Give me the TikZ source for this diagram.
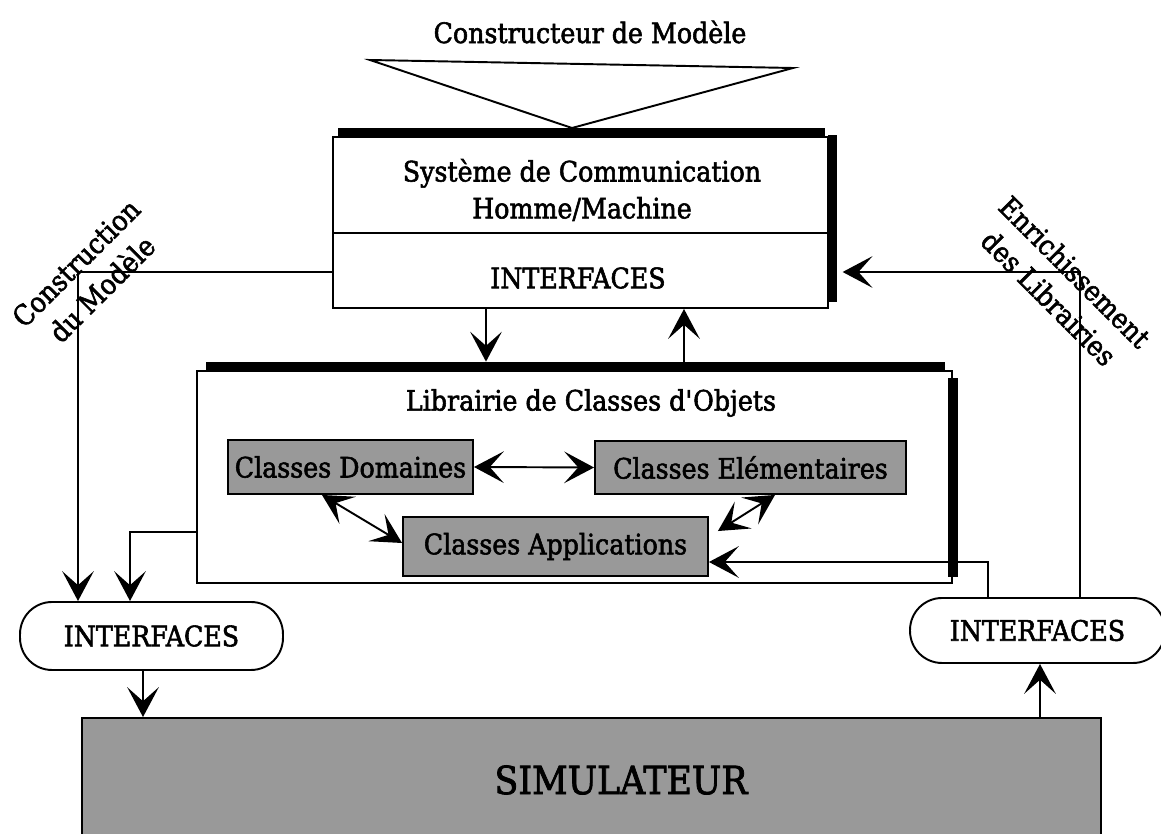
\documentclass[tikz,border=0pt]{standalone}
\usepackage{fontspec}
\setmainfont{DejaVu Serif}[FakeStretch=0.9, FakeBold=2]
\usetikzlibrary{arrows.meta, positioning, calc}

\begin{document}
\begin{tikzpicture}[x=0.02cm, y=-0.02cm,
  txt/.style={font=\fontsize{16}{21}\selectfont, align=center, inner sep=0pt},
  panel/.style={draw, line width=1.1pt, fill=white, inner sep=0pt},
  shade/.style={fill=black, draw=none, inner sep=0pt},
  cbox/.style={draw, line width=1.1pt, fill=black!40, inner sep=0pt,
    font=\fontsize{16}{21}\selectfont},
  ibox/.style={draw, line width=1.1pt, fill=white, rounded corners=0.64cm,
    inner sep=0pt, font=\fontsize{16}{21}\selectfont},
  arr/.style={-{Stealth[length=17pt, width=18pt, inset=8pt]}, line width=1.1pt},
  dbl/.style={{Stealth[length=17pt, width=18pt, inset=8pt]}-{Stealth[length=17pt, width=18pt, inset=8pt]},
    line width=1.1pt},
]
\useasboundingbox (0,0) rectangle (1161,834);

% ── Top: model builder ──
\node[txt] (titre) at (590,32) {Constructeur de Modèle};

% ── Communication system ──
\node[panel, minimum width=9.9cm, minimum height=3.42cm] (sys) at (580.5,222.5) {};
\node[shade, minimum width=9.74cm, minimum height=0.18cm] (sysbar) at (581.5,132.5) {};
\node[shade, minimum width=0.18cm, minimum height=3.34cm] (sysrbar) at (832.5,218.5) {};
\draw[line width=1.1pt] (sys.west |- 0,233) -- (sys.east |- 0,233);
\node[txt] (sysT) at (582,190) {Système de Communication\\Homme/Machine};
\node[txt] (sysI) at (578,278) {INTERFACES};

\draw[line width=1.1pt, line join=miter] (370,60) -- (793,68) -- (572,128) -- cycle;

% ── Object class library ──
\node[panel, minimum width=15.1cm, minimum height=4.24cm] (lib) at (574.5,477) {};
\node[shade, minimum width=14.78cm, minimum height=0.2cm] (libbar) at (575.5,367) {};
\node[shade, minimum width=0.2cm, minimum height=3.98cm] (librbar) at (953,477.5) {};
\node[txt] (libT) at (591,403) {Librairie de Classes d\textquotesingle Objets};

\node[cbox, minimum width=4.9cm, minimum height=1.08cm] (dom) at (350.5,467) {Classes Domaines};
\node[cbox, minimum width=6.22cm, minimum height=1.06cm] (elem) at (750.5,467.5) {Classes Elémentaires};
\node[cbox, minimum width=6.1cm, minimum height=1.18cm] (app) at (555.5,546.5) {Classes Applications};

% ── Interfaces and simulator ──
\node[ibox, minimum width=5.26cm, minimum height=1.36cm] (ifl) at (151.5,636) {INTERFACES};
\node[ibox, minimum width=5.1cm, minimum height=1.3cm] (ifr) at (1037.5,630.5) {INTERFACES};

\node[cbox, minimum width=20.38cm, minimum height=2.6cm] (sim) at (591.5,783) {};
\node[font=\fontsize{22}{26}\selectfont, inner sep=0pt] (simT) at (621,780) {SIMULATEUR};

% ── Side labels ──
\node[txt, rotate=45] (lblC) at (89,276) {Construction\\du Modèle};
\node[txt, rotate=-45] (lblE) at (1062,285) {Enrichissement\\des Librairies};

% ── Connectors ──
\coordinate (cA) at (78,272);
\draw[arr] (cA -| sys.west) -- (cA) -- (cA |- ifl.north);
\coordinate (cB) at (130,532);
\draw[arr] (cB -| lib.west) -- (cB) -- (cB |- ifl.north);
\coordinate (cC) at (143,700);
\draw[arr] (cC |- ifl.south) -- (cC |- sim.north);

\coordinate (cD) at (486,340);
\draw[arr] (cD |- sys.south) -- (cD |- libbar.north);
\coordinate (cE) at (684,340);
\draw[arr] (cE |- libbar.north) -- (cE |- sys.south);

\coordinate (cF) at (1080,272);
\draw[arr, shorten >=3pt] (cF |- ifr.north) -- (cF) -- (cF -| sysrbar.east);
\coordinate (cG) at (988,562);
\draw[arr] (cG |- ifr.north) -- (cG) -- (cG -| app.east);
\coordinate (cH) at (1040,690);
\draw[arr] (cH |- sim.north) -- (cH |- ifr.south);

% inside the library
\draw[dbl] (dom.east) -- (elem.west);
\draw[dbl] ($(dom.south)+(-28.5,0)$) -- ($(app.west)+(0,-3.5)$);
\draw[dbl] ($(elem.south)+(24.5,0)$) -- ($(app.north east)+(9,15)$);
\end{tikzpicture}
\end{document}
